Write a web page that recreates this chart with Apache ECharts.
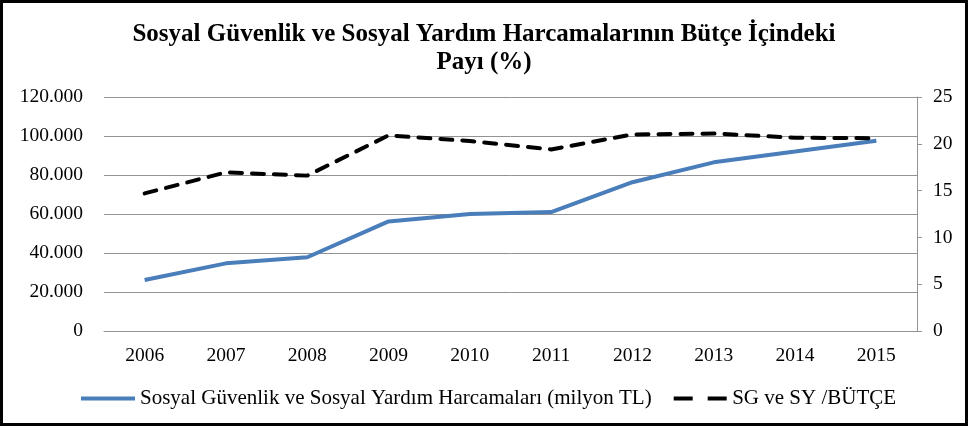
<!DOCTYPE html>
<html>
<head>
<meta charset="utf-8">
<script src="https://cdn.jsdelivr.net/npm/echarts@6/dist/echarts.min.js"></script>
<style>
  html, body { margin: 0; padding: 0; background: #fff; }
  #chart { width: 968px; height: 426px; box-sizing: border-box; border: 3px solid #000; }
</style>
</head>
<body>
<div id="chart"></div>
<script>
const years = ['2006', '2007', '2008', '2009', '2010', '2011', '2012', '2013', '2014', '2015'];
const harcama = [26150, 34700, 37800, 56200, 60000, 61000, 76300, 86500, 92000, 97600];
const butcePayi = [14.7, 16.95, 16.6, 20.9, 20.3, 19.4, 21.0, 21.1, 20.65, 20.6];

const SERIF = '"Liberation Serif", "DejaVu Serif", serif';
const BLUE = '#4a7ebb';
const GRID = '#939393';

const chart = echarts.init(document.getElementById('chart'), null, { renderer: 'canvas' });

chart.setOption({
  backgroundColor: '#fff',
  animation: false,
  title: {
    text: 'Sosyal Güvenlik ve Sosyal Yardım Harcamalarının Bütçe İçindeki\nPayı (%)',
    left: 'center',
    top: 13,
    textStyle: { fontFamily: SERIF, fontSize: 25, fontWeight: 'bold', color: '#000', lineHeight: 28 },
  },
  grid: { left: 101, right: 48, top: 94, bottom: 92 },
  legend: {
    top: 380,
    left: 73,
    itemWidth: 54,
    itemHeight: 4,
    itemGap: 22,
    textStyle: { fontFamily: SERIF, fontSize: 21, color: '#000' },
    data: [
      {
        name: 'Sosyal Güvenlik ve Sosyal Yardım Harcamaları (milyon TL)',
        icon: 'path://M0,0H54V4H0Z',
        itemStyle: { color: BLUE },
      },
      {
        name: 'SG ve SY /BÜTÇE',
        icon: 'path://M0,0H19V4H0Z M34,0H53V4H34Z',
        itemStyle: { color: '#000' },
      },
    ],
  },
  xAxis: {
    type: 'category',
    data: years,
    boundaryGap: true,
    axisLine: { lineStyle: { color: GRID } },
    axisTick: { show: false },
    axisLabel: { fontFamily: SERIF, fontSize: 19.5, color: '#000', margin: 15 },
  },
  yAxis: [
    {
      type: 'value',
      min: 0,
      max: 120000,
      interval: 20000,
      axisLine: { show: false },
      axisTick: { show: false },
      splitLine: { lineStyle: { color: GRID, width: 1 } },
      axisLabel: {
        fontFamily: SERIF,
        fontSize: 19.5,
        color: '#000',
        margin: 21,
        formatter: (v) => (v === 0 ? '0' : (v / 1000).toFixed(3)),
      },
    },
    {
      type: 'value',
      position: 'right',
      min: 0,
      max: 25,
      interval: 5,
      axisLine: { show: true, lineStyle: { color: GRID } },
      axisTick: { show: true, length: 5, lineStyle: { color: GRID } },
      splitLine: { show: false },
      axisLabel: { fontFamily: SERIF, fontSize: 19.5, color: '#000', margin: 16 },
    },
  ],
  series: [
    {
      name: 'Sosyal Güvenlik ve Sosyal Yardım Harcamaları (milyon TL)',
      type: 'line',
      yAxisIndex: 0,
      data: harcama,
      symbol: 'none',
      lineStyle: { color: BLUE, width: 4 },
      itemStyle: { color: BLUE },
    },
    {
      name: 'SG ve SY /BÜTÇE',
      type: 'line',
      yAxisIndex: 1,
      data: butcePayi,
      symbol: 'none',
      lineStyle: { color: '#000', width: 4, type: [12, 10], cap: 'round' },
      itemStyle: { color: '#000' },
    },
  ],
});
</script>
</body>
</html>
